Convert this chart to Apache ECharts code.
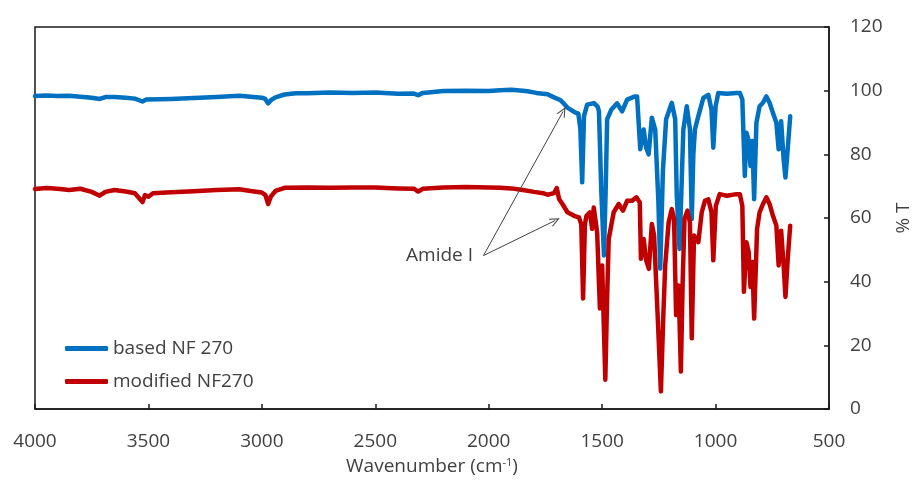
<!DOCTYPE html>
<html>
<head>
<meta charset="utf-8">
<title>FTIR spectra of NF 270 membranes</title>
<script src="https://cdn.jsdelivr.net/npm/echarts@6/dist/echarts.min.js"></script>
<style>
  html, body { margin: 0; padding: 0; background: #ffffff; }
  #chart { width: 921px; height: 481px; }
</style>
</head>
<body>
<div id="chart"></div>
<script>
// Series names
const seriesNames = ['based NF 270', 'modified NF270'];

// based NF 270: wavenumber (cm-1) and transmittance (%T)
const basedWavenumber = [
  4000, 3950, 3900, 3850, 3800, 3750, 3715, 3690, 3650, 3600, 3560, 3526, 3510, 3450, 3400,
  3300, 3200, 3100, 3050, 3000, 2985, 2972, 2960, 2940, 2900, 2850, 2800, 2700, 2600, 2500,
  2400, 2330, 2311, 2290, 2200, 2100, 2000, 1950, 1900, 1850, 1829, 1790, 1741, 1712, 1683,
  1653, 1620, 1605, 1596, 1588, 1580, 1566, 1536, 1520, 1514, 1504, 1492, 1484, 1478, 1460,
  1434, 1412, 1400, 1390, 1355, 1346, 1332, 1317, 1306, 1295, 1281, 1266, 1252, 1244, 1232,
  1218, 1193, 1178, 1171, 1159, 1150, 1142, 1127, 1113, 1105, 1098, 1091, 1076, 1054, 1032,
  1018, 1010, 1000, 988, 950, 908, 893, 882, 871, 864, 854, 846, 838, 830, 820,
  806, 791, 776, 762, 747, 732, 722, 711, 700, 692, 681, 671
];
const basedTransmittance = [
  98.3, 98.5, 98.3, 98.4, 98.1, 97.8, 97.4, 98.0, 98.0, 97.8, 97.5, 96.6, 97.2, 97.3, 97.4,
  97.7, 98.0, 98.4, 98.1, 97.8, 97.4, 96.0, 97.0, 97.9, 98.8, 99.2, 99.2, 99.4, 99.3, 99.4,
  99.0, 99.1, 98.6, 99.3, 99.9, 100.0, 99.9, 100.1, 100.3, 100.0, 99.8, 99.3, 98.9, 97.9, 97.0,
  94.7, 93.2, 92.8, 88.0, 71.2, 92.0, 95.6, 96.1, 95.0, 93.5, 69.0, 48.2, 70.0, 91.0, 94.0,
  96.0, 93.5, 95.5, 97.2, 98.2, 98.2, 81.6, 87.8, 82.1, 80.0, 91.5, 87.8, 65.0, 44.1, 75.0,
  91.0, 96.2, 91.0, 67.0, 50.3, 70.0, 87.8, 95.1, 87.8, 59.7, 80.0, 87.8, 92.0, 97.7, 98.7,
  94.0, 82.1, 95.0, 99.3, 99.0, 99.3, 99.3, 97.2, 73.2, 86.8, 84.2, 76.3, 84.2, 65.9, 89.9,
  95.1, 96.2, 98.2, 96.2, 93.0, 89.9, 81.6, 90.4, 78.4, 72.7, 82.6, 92.0
];

// modified NF270: wavenumber (cm-1) and transmittance (%T)
const modifiedWavenumber = [
  4000, 3950, 3900, 3850, 3800, 3750, 3715, 3690, 3650, 3600, 3560, 3526, 3515, 3500, 3480,
  3400, 3300, 3200, 3100, 3050, 3000, 2985, 2972, 2960, 2940, 2900, 2800, 2700, 2600, 2500,
  2400, 2330, 2311, 2290, 2200, 2100, 2000, 1950, 1900, 1850, 1800, 1760, 1741, 1712, 1700,
  1690, 1675, 1653, 1624, 1602, 1592, 1584, 1576, 1569, 1554, 1544, 1537, 1522, 1510, 1500,
  1486, 1478, 1471, 1449, 1427, 1408, 1390, 1368, 1349, 1334, 1329, 1317, 1306, 1294, 1281,
  1271, 1256, 1241, 1230, 1222, 1207, 1193, 1183, 1174, 1163, 1153, 1145, 1137, 1124, 1113,
  1105, 1095, 1076, 1061, 1047, 1032, 1018, 1010, 999, 982, 950, 908, 893, 882, 875,
  864, 854, 846, 838, 830, 817, 806, 791, 776, 762, 747, 732, 722, 711, 700,
  692, 681, 671
];
const modifiedTransmittance = [
  69.1, 69.4, 69.2, 68.8, 69.2, 68.2, 67.0, 68.2, 68.8, 68.3, 67.8, 65.0, 67.2, 66.7, 67.8,
  68.1, 68.4, 68.8, 69.0, 68.5, 68.0, 67.3, 64.4, 66.8, 68.5, 69.5, 69.6, 69.5, 69.6, 69.6,
  69.3, 69.2, 68.3, 69.2, 69.6, 69.7, 69.6, 69.5, 69.3, 68.8, 68.2, 67.8, 67.3, 67.8, 69.4,
  66.0, 64.4, 61.8, 60.7, 60.2, 58.0, 34.7, 58.0, 60.7, 61.8, 56.6, 63.3, 55.5, 31.6, 45.1,
  9.2, 35.0, 53.4, 61.8, 64.4, 62.3, 65.4, 65.4, 66.5, 64.9, 47.2, 53.4, 46.7, 44.0, 58.1,
  54.5, 30.5, 5.5, 30.0, 45.1, 58.6, 62.8, 59.7, 29.5, 38.8, 11.8, 40.0, 59.7, 62.3, 58.6,
  22.2, 54.5, 52.4, 61.8, 65.4, 65.9, 61.8, 46.7, 63.8, 67.5, 67.0, 67.5, 67.5, 63.8, 36.8,
  52.4, 49.3, 38.3, 46.2, 28.4, 56.6, 61.8, 64.4, 66.5, 64.4, 60.7, 57.6, 45.1, 56.0, 45.1,
  35.2, 48.2, 57.6
];

// Axis ticks
const xTickMin = 500, xTickMax = 4000, xTickStep = 500;
const yTickMin = 0, yTickMax = 120, yTickStep = 20;

// "Amide I" callout: text anchor and the two arrow tips, in data units
const amideText = 'Amide I';
const amideAnchor = [2023, 48.2];
const amideTips = [[1672, 93.5], [1707, 59.2]];

const textColor = '#404040';
const axisColor = '#1a1a1a';
const fontFamily = '"Open Sans", "Noto Sans", sans-serif';

const toPairs = (xs, ys) => xs.map((x, i) => [x, ys[i]]);

const chart = echarts.init(document.getElementById('chart'), null, { renderer: 'canvas' });

chart.setOption({
  animation: false,
  textStyle: { fontFamily: fontFamily, color: textColor },
  grid: {
    left: 35, right: 88, top: 27, bottom: 70,
    show: true, borderColor: axisColor, borderWidth: 1.5,
    containLabel: false
  },
  legend: {
    orient: 'vertical',
    left: 60, top: 334,
    icon: 'roundRect',
    itemWidth: 43, itemHeight: 5, itemGap: 14,
    textStyle: { fontSize: 19, color: textColor, fontFamily: fontFamily },
    data: seriesNames
  },
  xAxis: {
    type: 'value',
    min: xTickMin, max: xTickMax, interval: xTickStep,
    inverse: true,
    position: 'bottom',
    name: 'Wavenumber (cm{sup|-1})',
    nameLocation: 'middle',
    nameGap: 48,
    nameTextStyle: {
      fontSize: 19, color: textColor, fontFamily: fontFamily,
      rich: {
        sup: { fontSize: 11, verticalAlign: 'top', color: textColor, fontFamily: fontFamily, lineHeight: 12 }
      }
    },
    axisLine: { show: true, lineStyle: { color: axisColor, width: 1.5 } },
    axisTick: { show: true, inside: true, length: 5, lineStyle: { color: axisColor, width: 1.5 } },
    axisLabel: {
      fontSize: 19, color: textColor, margin: 23, fontFamily: fontFamily,
      formatter: v => String(v)
    },
    splitLine: { show: false }
  },
  yAxis: {
    type: 'value',
    min: yTickMin, max: yTickMax, interval: yTickStep,
    position: 'right',
    name: '% T',
    nameLocation: 'middle',
    nameRotate: 90,
    nameGap: 65,
    nameTextStyle: { fontSize: 19, color: textColor, fontFamily: fontFamily },
    axisLine: { show: true, lineStyle: { color: axisColor, width: 1.5 } },
    axisTick: { show: true, inside: true, length: 5, lineStyle: { color: axisColor, width: 1.5 } },
    axisLabel: { fontSize: 19, color: textColor, margin: 21, fontFamily: fontFamily },
    splitLine: { show: false }
  },
  series: [
    {
      name: seriesNames[0],
      type: 'line',
      symbol: 'none',
      color: '#0070C0',
      lineStyle: { color: '#0070C0', width: 4.5, join: 'round', cap: 'round' },
      data: toPairs(basedWavenumber, basedTransmittance),
      z: 2
    },
    {
      name: seriesNames[1],
      type: 'line',
      symbol: 'none',
      color: '#C00000',
      lineStyle: { color: '#C00000', width: 4.5, join: 'round', cap: 'round' },
      data: toPairs(modifiedWavenumber, modifiedTransmittance),
      z: 3,
      markLine: {
        silent: true,
        animation: false,
        symbol: ['none', 'path://M0,10 L5,0 L10,10 L8.8,10 L5,2.6 L1.2,10 Z'],
        symbolSize: [9, 10],
        lineStyle: { color: textColor, width: 1, type: 'solid' },
        label: { show: false },
        emphasis: { disabled: true },
        data: amideTips.map(tip => [{ coord: amideAnchor }, { coord: tip }])
      },
      markPoint: {
        silent: true,
        animation: false,
        data: [{
          coord: amideAnchor,
          symbol: 'circle',
          symbolSize: 1,
          itemStyle: { color: 'rgba(0,0,0,0)' },
          label: {
            show: true, position: 'left', distance: 10,
            formatter: amideText,
            fontSize: 19, color: textColor, fontFamily: fontFamily
          }
        }]
      }
    }
  ]
});
</script>
</body>
</html>
